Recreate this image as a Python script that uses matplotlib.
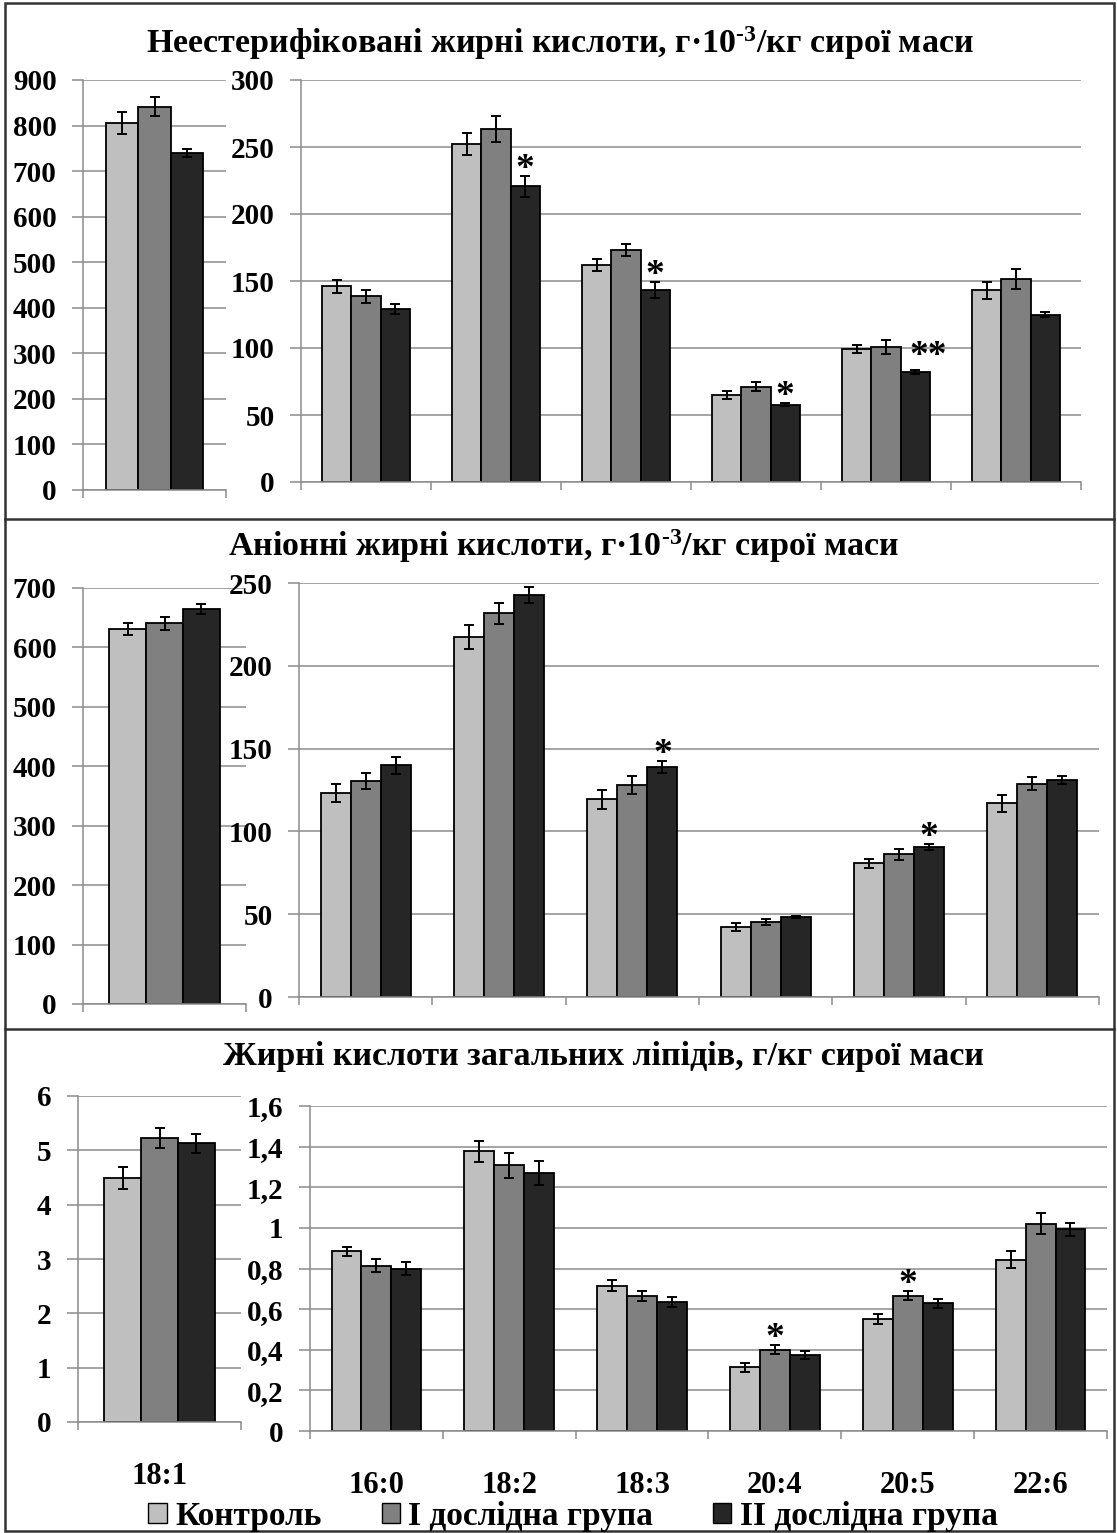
import numpy as np
import matplotlib
matplotlib.use('Agg')
import matplotlib.pyplot as plt
from matplotlib.patches import Rectangle, Patch
from matplotlib.lines import Line2D
from matplotlib.ticker import FuncFormatter

plt.rcParams['font.family'] = ['Liberation Serif', 'DejaVu Serif']
plt.rcParams['font.weight'] = 'bold'
plt.rcParams['mathtext.fontset'] = 'custom'
plt.rcParams['mathtext.rm'] = 'Liberation Serif:bold'
plt.rcParams['mathtext.it'] = 'Liberation Serif:bold'
plt.rcParams['mathtext.bf'] = 'Liberation Serif:bold'
plt.rcParams['mathtext.default'] = 'rm'

# ---- data ----
cats = ['16:0', '18:2', '18:3', '20:4', '20:5', '22:6']
cat_left = '18:1'
groups = ['Контроль', 'І дослідна група', 'ІІ дослідна група']
colors = ['#bfbfbf', '#808080', '#262626']

# неестерифіковані жирні кислоти
nefa_181 = [805, 841, 740]
nefa_181_err = [24, 21, 8]
nefa_ctrl = [146, 252, 162, 65, 99.5, 143]
nefa_ctrl_err = [4.6, 8.2, 4.2, 2.7, 3, 6.6]
nefa_g1 = [138.6, 263.7, 173, 71, 100.7, 151.7]
nefa_g1_err = [5, 9.6, 4.7, 3.4, 5, 7.5]
nefa_g2 = [129.4, 220.6, 143, 57.7, 82, 125]
nefa_g2_err = [3.7, 7.7, 6, 1, 1.5, 1.5]
nefa_stars = [(1, 2, '*'), (2, 2, '*'), (3, 2, '*'), (4, 2, '**')]

# аніонні жирні кислоти
anion_181 = [631, 641, 665]
anion_181_err = [10.7, 11, 8.7]
anion_ctrl = [123.3, 217.3, 119.3, 42.2, 80.7, 116.9]
anion_ctrl_err = [5.3, 7.2, 5.6, 2.2, 2.8, 5.2]
anion_g1 = [130.3, 231.7, 127.8, 45.2, 86.3, 128.9]
anion_g1_err = [4.8, 6.2, 5.5, 2, 3.3, 3.8]
anion_g2 = [140, 242.8, 138.9, 48.2, 90.4, 131.1]
anion_g2_err = [5.2, 5, 3.7, 0.5, 1.9, 2.5]
anion_stars = [(2, 2, '*'), (4, 2, '*')]

# жирні кислоти загальних ліпідів
total_181 = [4.49, 5.23, 5.13]
total_181_err = [0.21, 0.19, 0.17]
total_ctrl = [0.885, 1.377, 0.715, 0.313, 0.551, 0.844]
total_ctrl_err = [0.021, 0.053, 0.026, 0.022, 0.023, 0.041]
total_g1 = [0.813, 1.308, 0.666, 0.40, 0.666, 1.021]
total_g1_err = [0.032, 0.061, 0.025, 0.023, 0.022, 0.052]
total_g2 = [0.80, 1.27, 0.636, 0.374, 0.628, 0.993]
total_g2_err = [0.031, 0.057, 0.025, 0.019, 0.022, 0.031]
total_stars = [(3, 1, '*'), (4, 1, '*')]

titles = [r'Неестерифіковані жирні кислоти, г·$10^{\text{-3}}$/кг сирої маси',
          r'Аніонні жирні кислоти, г·$10^{\text{-3}}$/кг сирої маси',
          'Жирні кислоти загальних ліпідів, г/кг сирої маси']

W, H = 1117, 1533
fig = plt.figure(figsize=(W / 100, H / 100), dpi=100)

GRID = '#8c8c8c'
BW = 0.225
FS = 21


def add_ax(x0, x1, ytop, ybot):
    return fig.add_axes([x0 / W, 1 - ybot / H, (x1 - x0) / W, (ybot - ytop) / H])


def fmt(v, pos):
    s = ('%.1f' % v).rstrip('0').rstrip('.')
    return s.replace('.', ',')


def style(ax, ymax, step, ncat):
    ax.set_ylim(0, ymax)
    ax.set_xlim(-0.5, ncat - 0.5)
    ax.set_yticks(np.arange(0, ymax + step / 2, step))
    ax.yaxis.set_major_formatter(FuncFormatter(fmt))
    ax.set_xticks(np.arange(ncat + 1) - 0.5)
    ax.set_xticklabels([])
    ax.grid(axis='y', color=GRID, lw=1.1)
    ax.set_axisbelow(True)
    for s in ['top', 'right']:
        ax.spines[s].set_visible(False)
    for s in ['left', 'bottom']:
        ax.spines[s].set_color(GRID)
        ax.spines[s].set_linewidth(1.1)
    ax.tick_params(axis='y', length=8, color=GRID, width=1.1, labelsize=FS, pad=11)
    ax.tick_params(axis='x', which='major', length=6, color=GRID, width=1.1)
    ax.tick_params(axis='x', which='minor', length=0, labelsize=FS + 1, pad=29)


def bars(ax, series, errs):
    n = len(series[0])
    x = np.arange(n)
    for k, (vals, e) in enumerate(zip(series, errs)):
        ax.bar(x + (k - 1) * BW, vals, BW, color=colors[k], edgecolor='black', lw=1.3,
               yerr=e, capsize=3.5, error_kw=dict(elinewidth=1.4, capthick=1.4, ecolor='black'))


def stars(ax, series, errs, marks):
    for i, k, t in marks:
        top = series[k][i] + errs[k][i]
        dx = 9 if t == '**' else 0
        dy = 3 if t == '**' else -2
        ax.annotate(t, (i + (k - 1) * BW, top), xytext=(dx, dy), textcoords='offset points',
                    ha='center', va='baseline', fontsize=27, fontweight='bold')


panels = [
    dict(left=(83, 226, 80, 490), lmax=900, lstep=100,
         right=(301, 1081, 80, 482), rmax=300, rstep=50,
         l=(nefa_181, nefa_181_err),
         r=([nefa_ctrl, nefa_g1, nefa_g2], [nefa_ctrl_err, nefa_g1_err, nefa_g2_err]),
         st=nefa_stars, title=(560, 43)),
    dict(left=(83, 246, 588, 1004), lmax=700, lstep=100,
         right=(299, 1099, 583, 997), rmax=250, rstep=50,
         l=(anion_181, anion_181_err),
         r=([anion_ctrl, anion_g1, anion_g2], [anion_ctrl_err, anion_g1_err, anion_g2_err]),
         st=anion_stars, title=(564, 546)),
    dict(left=(78, 241, 1096, 1422), lmax=6, lstep=1,
         right=(310, 1107, 1106, 1431), rmax=1.6, rstep=0.2,
         l=(total_181, total_181_err),
         r=([total_ctrl, total_g1, total_g2], [total_ctrl_err, total_g1_err, total_g2_err]),
         st=total_stars, title=(603, 1056)),
]

for pi, p in enumerate(panels):
    axl = add_ax(*p['left'])
    style(axl, p['lmax'], p['lstep'], 1)
    vals, errs = p['l']
    bars(axl, [[v] for v in vals], [[e] for e in errs])

    axr = add_ax(*p['right'])
    style(axr, p['rmax'], p['rstep'], len(cats))
    bars(axr, p['r'][0], p['r'][1])
    stars(axr, p['r'][0], p['r'][1], p['st'])

    if pi == 2:
        axl.set_xticks([0], minor=True)
        axl.set_xticklabels([cat_left], minor=True)
        axr.set_xticks(np.arange(len(cats)), minor=True)
        axr.set_xticklabels(cats, minor=True)

    tx, ty = p['title']
    fig.text(tx / W, 1 - ty / H, titles[pi], ha='center', va='center', fontsize=24.5,
             fontweight='bold')

# рамки панелей
fig.add_artist(Rectangle((5 / W, 1 - 1531 / H), 1109 / W, 1528 / H, transform=fig.transFigure,
                         fill=False, edgecolor='#333333', lw=1.8))
for yy in [519, 1029]:
    fig.add_artist(Line2D([5 / W, 1114 / W], [1 - yy / H] * 2, transform=fig.transFigure,
                          color='#333333', lw=1.8))

handles = [Patch(facecolor=c, edgecolor='black', lw=1) for c in colors]
fig.legend(handles, groups, loc='center', bbox_to_anchor=(573 / W, 1 - 1516 / H), ncol=3,
           frameon=False, fontsize=24, handlelength=0.55, handleheight=0.55,
           handletextpad=0.25, columnspacing=1.8, borderaxespad=0, borderpad=0)

fig.savefig('out.png', dpi=100, facecolor='white')
